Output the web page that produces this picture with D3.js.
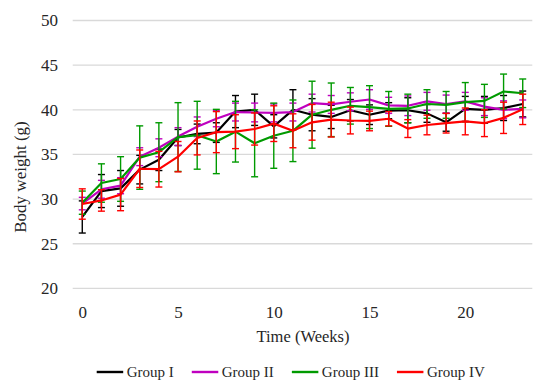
<!DOCTYPE html>
<html>
<head>
<meta charset="utf-8">
<script src="https://cdn.jsdelivr.net/npm/d3@7/dist/d3.min.js"></script>
<style>
  html, body { margin: 0; padding: 0; background: #fff; }
  svg { display: block; }
  svg text { font-family: "Liberation Serif", Tinos, "Times New Roman", Times, "DejaVu Serif", serif !important; fill: #262626; }
</style>
</head>
<body>
<svg id="chart" width="550" height="390"></svg>
<script>
// ---- Data ----
const weeks = d3.range(0, 24);
const seriesNames = ["Group I", "Group II", "Group III", "Group IV"];
const seriesColors = ["#000000", "#BF00BF", "#009A00", "#FF0000"];

const groupI   = [28.0, 30.9, 31.2, 33.3, 34.4, 36.9, 37.3, 37.45, 39.8, 40.0, 38.15, 40.0, 39.45, 39.2, 39.95, 39.45, 39.9, 39.95, 39.6, 38.6, 40.1, 40.0, 40.2, 40.65];
const groupIErr = [1.8, 1.85, 2.0, 1.6, 1.2, 0.9, 1.1, 1.1, 1.8, 1.75, 1.3, 2.25, 1.8, 1.3, 1.2, 1.1, 0.9, 1.4, 1.0, 1.0, 1.4, 1.5, 1.4, 1.45];

const groupII   = [29.5, 31.1, 31.5, 34.75, 35.75, 37.0, 38.1, 39.0, 39.75, 39.7, 39.65, 39.75, 40.75, 40.6, 40.9, 41.15, 40.5, 40.45, 40.95, 40.65, 40.95, 40.35, 40.0, 40.1];
const groupIIErr = [0.7, 1.0, 0.9, 1.0, 1.0, 1.0, 1.1, 0.9, 1.0, 1.05, 1.0, 1.0, 1.0, 1.0, 1.0, 1.1, 0.9, 1.1, 1.0, 1.0, 1.0, 1.0, 1.0, 1.0];

const groupIII   = [29.6, 31.8, 32.25, 34.65, 35.25, 36.95, 37.15, 36.45, 37.55, 36.25, 37.1, 37.65, 39.45, 40.0, 40.45, 40.3, 40.1, 40.15, 40.65, 40.55, 40.85, 41.0, 42.05, 41.85];
const groupIIIErr = [1.3, 2.15, 2.5, 3.55, 3.3, 3.85, 3.8, 3.6, 3.4, 3.75, 3.65, 3.45, 3.75, 3.0, 2.05, 2.4, 1.95, 1.6, 1.6, 1.5, 2.2, 1.85, 1.95, 1.6];

const groupIV   = [29.45, 29.85, 30.5, 33.4, 33.35, 34.75, 36.85, 37.5, 37.55, 37.85, 38.45, 37.65, 38.6, 38.9, 38.8, 38.75, 39.0, 37.9, 38.3, 38.5, 38.7, 38.5, 39.1, 40.05];
const groupIVErr = [1.7, 1.2, 1.8, 2.1, 2.0, 1.7, 1.9, 2.3, 1.9, 1.8, 2.0, 1.9, 2.0, 1.95, 1.5, 1.1, 0.8, 1.0, 1.1, 1.1, 1.5, 1.5, 1.75, 1.7];

const xTicks = [0, 5, 10, 15, 20];
const yTicks = [20, 25, 30, 35, 40, 45, 50];
const xTitle = "Time (Weeks)";
const yTitle = "Body weight (g)";

const seriesValues = [groupI, groupII, groupIII, groupIV];
const seriesErrors = [groupIErr, groupIIErr, groupIIIErr, groupIVErr];

// ---- Layout ----
const FONT = '"Liberation Serif", Tinos, "Times New Roman", Times, "DejaVu Serif", serif';
const svg = d3.select("#chart");
const plot = { left: 72.7, right: 532.3, top: 20.5, bottom: 288.4 };

const x = d3.scaleLinear().domain([-0.5, 23.5]).range([plot.left, plot.right]);
const y = d3.scaleLinear().domain([20, 50]).range([plot.bottom, plot.top]);

// Gridlines
svg.append("g").selectAll("line").data(yTicks).join("line")
  .attr("x1", plot.left).attr("x2", plot.right)
  .attr("y1", d => y(d)).attr("y2", d => y(d))
  .attr("stroke", "#D9D9D9").attr("stroke-width", 1.3);

// Y axis labels
const yAxis = d3.axisLeft(y).tickValues(yTicks).tickSize(0).tickPadding(0);
const yg = svg.append("g").attr("transform", `translate(58,0)`).call(yAxis)
  .attr("font-family", FONT).attr("font-size", 17);
yg.select(".domain").remove();
yg.selectAll("text").attr("fill", "#262626");

// X axis labels
const xAxis = d3.axisBottom(x).tickValues(xTicks).tickSize(0).tickPadding(0);
const xg = svg.append("g").attr("transform", `translate(0,306)`).call(xAxis)
  .attr("font-family", FONT).attr("font-size", 17);
xg.select(".domain").remove();
xg.selectAll("text").attr("fill", "#262626");

// Axis titles
svg.append("text").attr("x", 303).attr("y", 342).attr("text-anchor", "middle")
  .attr("font-family", FONT).attr("font-size", 16.5).text(xTitle);
svg.append("text").attr("transform", "translate(26,177) rotate(-90)").attr("text-anchor", "middle")
  .attr("font-family", FONT).attr("font-size", 17).text(yTitle);

// Series
const line = d3.line().x(d => x(d.w)).y(d => y(d.v));
const capW = 3.5;
seriesValues.forEach((vals, si) => {
  const data = weeks.map((w, i) => ({ w, v: vals[i], e: seriesErrors[si][i] }));
  const g = svg.append("g");
  g.append("path").datum(data).attr("d", line)
    .attr("fill", "none").attr("stroke", seriesColors[si]).attr("stroke-width", 2.2)
    .attr("stroke-linejoin", "round");
  const eb = g.append("g").attr("stroke", seriesColors[si]).attr("stroke-width", 1.4);
  eb.selectAll("line.v").data(data).join("line").attr("class", "v")
    .attr("x1", d => x(d.w)).attr("x2", d => x(d.w))
    .attr("y1", d => y(d.v - d.e)).attr("y2", d => y(d.v + d.e));
  eb.selectAll("line.t").data(data).join("line").attr("class", "t")
    .attr("x1", d => x(d.w) - capW).attr("x2", d => x(d.w) + capW)
    .attr("y1", d => y(d.v + d.e)).attr("y2", d => y(d.v + d.e));
  eb.selectAll("line.b").data(data).join("line").attr("class", "b")
    .attr("x1", d => x(d.w) - capW).attr("x2", d => x(d.w) + capW)
    .attr("y1", d => y(d.v - d.e)).attr("y2", d => y(d.v - d.e));
});

// Legend
const legend = svg.append("g");
let lx = 96.7;
const ly = 372;
seriesNames.forEach((name, i) => {
  legend.append("line").attr("x1", lx).attr("x2", lx + 26.5).attr("y1", ly).attr("y2", ly)
    .attr("stroke", seriesColors[i]).attr("stroke-width", 2.4);
  const t = legend.append("text").attr("x", lx + 30).attr("y", ly + 5)
    .attr("font-family", FONT).attr("font-size", 15).text(name);
  lx = lx + 30 + t.node().getComputedTextLength() + 18;
});
</script>
</body>
</html>
